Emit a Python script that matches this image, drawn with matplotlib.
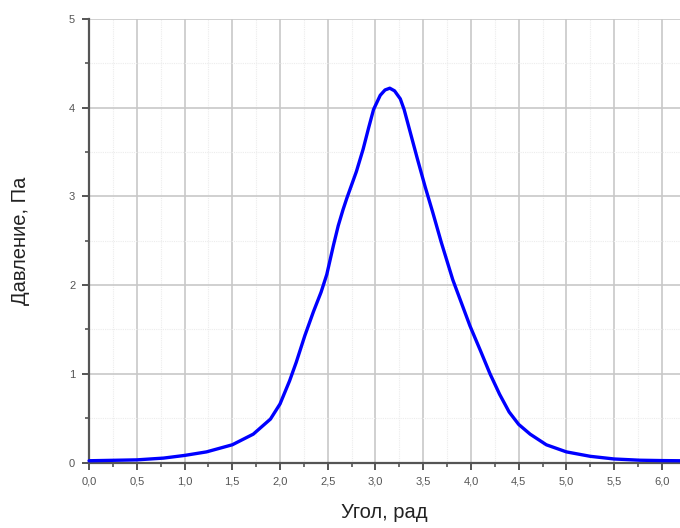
import matplotlib
matplotlib.use('Agg')
import matplotlib.pyplot as plt
import numpy as np
from matplotlib.ticker import MultipleLocator, FuncFormatter

angle = [0.0, 0.5, 0.78, 1.0, 1.23, 1.5, 1.72, 1.9, 2.0, 2.1, 2.17, 2.26,
         2.35, 2.43, 2.49, 2.56, 2.61, 2.66, 2.70, 2.80, 2.87, 2.93, 2.98,
         3.05, 3.10, 3.15, 3.20, 3.26, 3.30, 3.34, 3.44, 3.52, 3.60, 3.69,
         3.81, 3.90, 3.99, 4.10, 4.20, 4.30, 4.40, 4.50, 4.62, 4.79, 5.0,
         5.25, 5.5, 5.77, 6.0, 6.19]
pressure = [0.02, 0.03, 0.05, 0.08, 0.12, 0.20, 0.32, 0.49, 0.66, 0.92, 1.13,
            1.43, 1.70, 1.92, 2.12, 2.45, 2.67, 2.85, 2.98, 3.28, 3.53, 3.78,
            3.98, 4.14, 4.20, 4.22, 4.19, 4.10, 3.98, 3.82, 3.42, 3.11, 2.82,
            2.48, 2.06, 1.80, 1.54, 1.26, 1.00, 0.77, 0.57, 0.43, 0.32, 0.20,
            0.12, 0.07, 0.04, 0.026, 0.022, 0.02]

X_MAX = 6.19

plt.rcParams['font.family'] = ['Liberation Sans', 'DejaVu Sans']

fig = plt.figure(figsize=(6.8, 5.28), dpi=100)
ax = fig.add_axes([0.131, 0.124, 1.0 - 0.131, 0.964 - 0.124])

ax.plot(angle, pressure, color='#0000ff', lw=2.4, solid_capstyle='round',
        solid_joinstyle='round', clip_on=False, zorder=3)

ax.set_xlim(0, X_MAX)
ax.set_ylim(0, 5)
ax.xaxis.set_major_locator(MultipleLocator(0.5))
ax.xaxis.set_minor_locator(MultipleLocator(0.25))
ax.yaxis.set_major_locator(MultipleLocator(1))
ax.yaxis.set_minor_locator(MultipleLocator(0.5))
ax.xaxis.set_major_formatter(FuncFormatter(lambda v, p: f'{v:.1f}'.replace('.', ',')))

ax.grid(True, which='major', color='#c8c8c8', lw=1.2)
ax.grid(True, which='minor', color='#ececec', lw=0.8, ls=(0, (1, 1)))
ax.set_axisbelow(True)

for s in ['top', 'right']:
    ax.spines[s].set_visible(False)
for s in ['left', 'bottom']:
    ax.spines[s].set_color('#555555')
    ax.spines[s].set_linewidth(1.6)

ax.tick_params(which='major', length=5, width=1.4, color='#555555',
               labelsize=8, labelcolor='#555555', pad=5)
ax.tick_params(which='minor', length=3, width=1.2, color='#555555')

ax.set_xlabel('Угол, рад', fontsize=14.5, color='#222222', labelpad=12)
ax.set_ylabel('Давление, Па', fontsize=14.5, color='#222222', labelpad=28)

fig.savefig('out.png', dpi=100)
